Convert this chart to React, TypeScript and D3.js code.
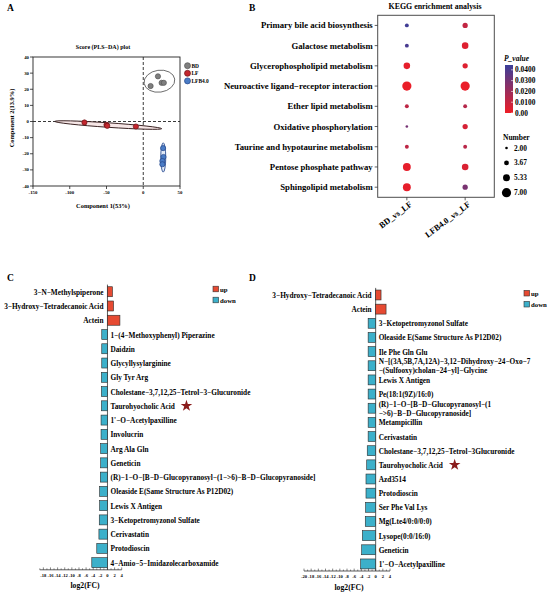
import React from "react";
import * as d3 from "d3";

const W = 550;
const H = 596;
const serif = '"Liberation Serif", "Times New Roman", serif';

// ---- A: PLS-DA score plot ----
const scoreGroups = ["BD", "LF", "LFB4.0"];
const scoreColors = ["#7f7f7f", "#c3272e", "#4a7cc6"];
const scoreStrokes = ["#555555", "#6d1418", "#24468a"];
const bdX = [10, 20, 25, 28];
const bdY = [22, 28, 24, 24];
const lfX = [-80, -50, -49, -10];
const lfY = [-0.6, -2.1, -2.7, -3.1];
const lfbX = [27, 27.5, 26, 26];
const lfbY = [-16.5, -22, -24.5, -26.5];
// confidence ellipses (centre, semi axes in data units, screen rotation)
const ellCx = [22, -47.6, 27.2];
const ellCy = [25, -2.2, -22.3];
const ellRx = [21, 72.8, 3.4];
const ellRy = [6.8, 1.4, 9.1];
const ellRot = [-8, 3.9, 0];
const ellStroke = ["#666666", "#2b1212", "#2c4f94"];
const ellFill = ["none", "#f6e6e6", "#e2eaf7"];
const scoreXTicks = [-150, -100, -50, 0, 50];
const scoreYTicks = [-40, -30, -20, -10, 0, 10, 20, 30, 40];

// ---- B: KEGG enrichment ----
const pathways = [
  "Primary bile acid biosynthesis",
  "Galactose metabolism",
  "Glycerophospholipid metabolism",
  "Neuroactive ligand\u2212receptor interaction",
  "Ether lipid metabolism",
  "Oxidative phosphorylation",
  "Taurine and hypotaurine metabolism",
  "Pentose phosphate pathway",
  "Sphingolipid metabolism",
];
const comparisons = ["BD_vs_LF", "LFB4.0_vs_LF"];
const bdCounts = [3, 3, 5, 7, 3, 2, 3, 6, 6];
const bdPvalues = [0.043, 0.041, 0.002, 0.001, 0.012, 0.03, 0.012, 0.002, 0.002];
const lfbCounts = [4, 5, 4, 7, 3, 4, 3, 5, 4];
const lfbPvalues = [0.011, 0.004, 0.004, 0.001, 0.014, 0.006, 0.013, 0.005, 0.029];
const pTicks = [0, 0.01, 0.02, 0.03, 0.04];
const pTickLabels = ["0.00", "0.0100", "0.0200", "0.0300", "0.0400"];
const numberTicks = [2, 3.67, 5.33, 7];
const numberLabels = ["2.00", "3.67", "5.33", "7.00"];

// ---- C: BD vs LF fold change ----
const cNames = [
  "3\u2212N\u2212Methylspiperone",
  "3\u2212Hydroxy\u2212Tetradecanoic Acid",
  "Actein",
  "1\u2212(4\u2212Methoxyphenyl) Piperazine",
  "Daidzin",
  "Glycyllysylarginine",
  "Gly Tyr Arg",
  "Cholestane\u22123,7,12,25\u2212Tetrol\u22123\u2212Glucuronide",
  "Taurohyocholic Acid",
  "1'\u2212O\u2212Acetylpaxilline",
  "Involucrin",
  "Arg Ala Gln",
  "Geneticin",
  "(R)\u22121\u2212O\u2212[B\u2212D\u2212Glucopyranosyl\u2212(1\u2212>6)\u2212B\u2212D\u2212Glucopyranoside]",
  "Oleaside E(Same Structure As P12D02)",
  "Lewis X Antigen",
  "3\u2212Ketopetromyzonol Sulfate",
  "Cerivastatin",
  "Protodioscin",
  "4\u2212Amio\u22125\u2212Imidazolecarboxamide",
];
const cValues = [1.4, 1.7, 3.5, -1.6, -1.6, -1.6, -1.7, -1.7, -1.7, -1.8, -1.8, -1.9, -1.9, -2.0, -2.2, -2.2, -2.3, -2.4, -3.0, -4.4];
const cTicks = [-18, -16, -14, -12, -10, -8, -6, -4, -2, 0, 2, 4];

// ---- D: LFB4.0 vs LF fold change ----
const dNames = [
  "3\u2212Hydroxy\u2212Tetradecanoic Acid",
  "Actein",
  "3\u2212Ketopetromyzonol Sulfate",
  "Oleaside E(Same Structure As P12D02)",
  "Ile Phe Gln Glu",
  "N\u2212[(3A,5B,7A,12A)\u22123,12\u2212Dihydroxy\u221224\u2212Oxo\u22127\n\u2212(Sulfooxy)cholan\u221224\u2212yl]\u2212Glycine",
  "Lewis X Antigen",
  "Pe(18:1(9Z)/16:0)",
  "(R)\u22121\u2212O\u2212[B\u2212D\u2212Glucopyranosyl\u2212(1\n\u2212>6)\u2212B\u2212D\u2212Glucopyranoside]",
  "Metampicillin",
  "Cerivastatin",
  "Cholestane\u22123,7,12,25\u2212Tetrol\u22123Glucuronide",
  "Taurohyocholic Acid",
  "Azd3514",
  "Protodioscin",
  "Ser Phe Val Lys",
  "Mg(Lte4/0:0/0:0)",
  "Lysope(0:0/16:0)",
  "Geneticin",
  "1'\u2212O\u2212Acetylpaxilline",
];
const dValues = [1.5, 2.9, -2.1, -2.1, -2.1, -2.1, -2.1, -2.1, -2.1, -2.1, -2.1, -2.35, -2.5, -2.7, -2.7, -2.8, -2.9, -3.7, -3.9, -4.2];
const dTicks = [-20, -18, -16, -14, -12, -10, -8, -6, -4, -2, 0, 2, 4];

const starred = "Taurohyocholic Acid";
const upColor = "#e64a32";
const downColor = "#3cb0ca";

function ScorePlot() {
  const x = d3.scaleLinear().domain([-150, 50]).range([33, 180]);
  const y = d3.scaleLinear().domain([-40, 40]).range([186, 57]);
  const groups = [
    { xs: bdX, ys: bdY },
    { xs: lfX, ys: lfY },
    { xs: lfbX, ys: lfbY },
  ];
  return (
    <g fontFamily={serif} fontWeight="bold">
      <text x={7} y={11} fontSize={9.5}>A</text>
      <text x={103} y={49} fontSize={6} textAnchor="middle">Score (PLS{"\u2212"}DA) plot</text>
      <rect x={33} y={57} width={147} height={129} fill="none" stroke="#222" strokeWidth={0.9} />
      <line x1={x(0)} x2={x(0)} y1={57} y2={186} stroke="#222" strokeDasharray="3,2" strokeWidth={0.9} />
      <line x1={33} x2={180} y1={y(0)} y2={y(0)} stroke="#222" strokeDasharray="3,2" strokeWidth={0.9} />
      {scoreXTicks.map((t) => (
        <g key={t}>
          <line x1={x(t)} x2={x(t)} y1={186} y2={189} stroke="#222" strokeWidth={0.8} />
          <text x={x(t)} y={193.5} fontSize={4.8} textAnchor="middle">{t}</text>
        </g>
      ))}
      {scoreYTicks.map((t) => (
        <g key={t}>
          <line x1={30} x2={33} y1={y(t)} y2={y(t)} stroke="#222" strokeWidth={0.8} />
          <text x={29} y={y(t)} fontSize={4.8} textAnchor="end" dominantBaseline="central">{t}</text>
        </g>
      ))}
      <text x={103} y={208} fontSize={6.4} textAnchor="middle">Component 1(53%)</text>
      <text transform={`translate(13.5,118) rotate(-90)`} fontSize={6.4} textAnchor="middle">Component 2(13.9%)</text>
      {ellCx.map((cx, i) => (
        <ellipse
          key={i}
          cx={x(cx)}
          cy={y(ellCy[i])}
          rx={x(cx + ellRx[i]) - x(cx)}
          ry={y(ellCy[i]) - y(ellCy[i] + ellRy[i])}
          transform={`rotate(${ellRot[i]} ${x(cx)} ${y(ellCy[i])})`}
          fill={ellFill[i]}
          stroke={ellStroke[i]}
          strokeWidth={0.9}
        />
      ))}
      {groups.map((g, gi) =>
        g.xs.map((v, i) => (
          <circle key={`${gi}-${i}`} cx={x(v)} cy={y(g.ys[i])} r={2.6} fill={scoreColors[gi]} stroke={scoreStrokes[gi]} strokeWidth={0.7} />
        ))
      )}
      {scoreGroups.map((name, i) => (
        <g key={name} transform={`translate(187.5,${65.7 + i * 7.6})`}>
          <circle r={3} fill={scoreColors[i]} stroke={scoreStrokes[i]} strokeWidth={0.7} />
          <text x={4} fontSize={5.4} dominantBaseline="central">{name}</text>
        </g>
      ))}
    </g>
  );
}

function KeggPlot() {
  const left = 377.7;
  const right = 494.3;
  const top = 15.3;
  const bottom = 197.3;
  const y = d3.scalePoint<string>().domain(pathways).range([top, bottom]).padding(0.5);
  const x = d3.scalePoint<string>().domain(comparisons).range([left, right]).padding(0.5);
  const r = d3.scaleLinear().domain([2, 7]).range([1.3, 4.6]);
  const color = d3.scaleLinear<string>().domain([0, 0.0445]).range(["#ee1d26", "#3a3e99"]).interpolate(d3.interpolateRgb);
  const pScale = d3.scaleLinear().domain([0, 0.0445]).range([113, 65]);
  const nScale = d3.scalePoint<string>().domain(numberLabels).range([148, 192.7]);
  const series = [
    { counts: bdCounts, pv: bdPvalues },
    { counts: lfbCounts, pv: lfbPvalues },
  ];
  return (
    <g fontFamily={serif} fontWeight="bold">
      <defs>
        <linearGradient id="pgrad" x1="0" x2="0" y1="0" y2="1">
          <stop offset="0%" stopColor={color(0.0445)} />
          <stop offset="100%" stopColor={color(0)} />
        </linearGradient>
      </defs>
      <text x={249} y={11} fontSize={9.5}>B</text>
      <text x={435} y={9} fontSize={7.9} textAnchor="middle">KEGG enrichment analysis</text>
      <rect x={left} y={top} width={right - left} height={bottom - top} fill="none" stroke="#4d4d4d" strokeWidth={1} />
      {pathways.map((p) => (
        <g key={p}>
          <line x1={left - 3} x2={left} y1={y(p)} y2={y(p)} stroke="#333" strokeWidth={0.8} />
          <text x={left - 5} y={y(p)} fontSize={8.7} textAnchor="end" dominantBaseline="central">{p}</text>
        </g>
      ))}
      {comparisons.map((c) => (
        <g key={c}>
          <line x1={x(c)} x2={x(c)} y1={bottom} y2={bottom + 3} stroke="#333" strokeWidth={0.8} />
          <text transform={`translate(${x(c)! + 2},${bottom + 3}) rotate(-37)`} fontSize={8.5} textAnchor="end" dominantBaseline="hanging">{c}</text>
        </g>
      ))}
      {series.map((s, si) =>
        pathways.map((p, i) => (
          <circle key={`${si}-${p}`} cx={x(comparisons[si])} cy={y(p)} r={r(s.counts[i])} fill={color(s.pv[i])} />
        ))
      )}
      <text x={504} y={61} fontSize={7.5} fontStyle="italic">P_value</text>
      <rect x={505} y={65} width={8} height={48} fill="url(#pgrad)" />
      {pTicks.map((t, i) => (
        <g key={t}>
          <line x1={511} x2={513} y1={pScale(t)} y2={pScale(t)} stroke="#fff" strokeWidth={0.6} />
          <text x={515} y={pScale(t)} fontSize={7.4} dominantBaseline="central">{pTickLabels[i]}</text>
        </g>
      ))}
      <text x={503} y={139.5} fontSize={7.5}>Number</text>
      {numberTicks.map((t, i) => (
        <g key={t}>
          <circle cx={506.5} cy={nScale(numberLabels[i])} r={r(t)} fill="#000" />
          <text x={514} y={nScale(numberLabels[i])} fontSize={7.4} dominantBaseline="central">{numberLabels[i]}</text>
        </g>
      ))}
    </g>
  );
}

type FCProps = {
  letter: string;
  letterX: number;
  names: string[];
  values: number[];
  ticks: number[];
  domain: [number, number];
  xRange: [number, number];
  yRange: [number, number];
  legendX: number;
  legendY: number;
  labelX: number;
  labelY: number;
  starOffset: number;
};

function FoldChangePanel(p: FCProps) {
  const x = d3.scaleLinear().domain(p.domain).range(p.xRange);
  const y = d3.scaleBand<string>().domain(p.names).range(p.yRange).paddingInner(0.3).paddingOuter(0.15);
  const x0 = x(0);
  const axisY = p.yRange[1];
  const minor = d3.range(p.domain[0], p.domain[1] + 1, 1);
  const star = d3.symbol().type(d3.symbolStar).size(42)();
  return (
    <g fontFamily={serif} fontWeight="bold">
      <text x={p.letterX} y={281} fontSize={9.5}>{p.letter}</text>
      {["up", "down"].map((k, i) => (
        <g key={k} transform={`translate(${p.legendX},${p.legendY + i * 11})`}>
          <rect x={0} y={-2.8} width={5.6} height={5.6} fill={i === 0 ? upColor : downColor} stroke="#333" strokeWidth={0.6} />
          <text x={7} y={0} fontSize={6.8} dominantBaseline="central">{k}</text>
        </g>
      ))}
      <line x1={x0} x2={x0} y1={p.yRange[0]} y2={axisY} stroke="#333" strokeWidth={0.8} />
      {p.names.map((n, i) => {
        const v = p.values[i];
        const yc = y(n)! + y.bandwidth() / 2;
        const lines = n.split("\n");
        const tx = v >= 0 ? x0 - 4 : x0 + 3;
        return (
          <g key={n}>
            <rect
              x={Math.min(x(v), x0)}
              y={y(n)}
              width={Math.abs(x(v) - x0)}
              height={y.bandwidth()}
              fill={v >= 0 ? upColor : downColor}
              stroke="#2a2a2a"
              strokeWidth={0.6}
            />
            <text x={tx} y={yc} fontSize={7.3} textAnchor={v >= 0 ? "end" : "start"} dominantBaseline="central">
              {lines.map((l, li) => (
                <tspan key={li} x={tx} y={yc + (li - (lines.length - 1) / 2) * 9.3}>{l}</tspan>
              ))}
            </text>
            {n === starred && <path d={star!} transform={`translate(${tx + p.starOffset},${yc})`} fill="#8a1c1c" />}
          </g>
        );
      })}
      <line x1={p.xRange[0]} x2={p.xRange[1]} y1={axisY} y2={axisY} stroke="#333" strokeWidth={0.8} />
      {minor.map((t) => (
        <line key={t} x1={x(t)} x2={x(t)} y1={axisY} y2={axisY - (t % 2 === 0 ? 2.4 : 1.4)} stroke="#333" strokeWidth={0.6} />
      ))}
      {p.ticks.map((t) => (
        <text key={t} x={x(t)} y={axisY + 5.5} fontSize={4.6} textAnchor="middle" dominantBaseline="central">{t}</text>
      ))}
      <text x={p.labelX} y={p.labelY} fontSize={7.7} textAnchor="middle">log2(FC)</text>
    </g>
  );
}

export default function App() {
  return (
    <svg width={W} height={H} style={{ position: "absolute", left: 0, top: 0, background: "#fff" }}>
      <ScorePlot />
      <KeggPlot />
      <FoldChangePanel
        letter="C"
        letterX={7}
        names={cNames}
        values={cValues}
        ticks={cTicks}
        domain={[-19, 4]}
        xRange={[39.8, 121.7]}
        yRange={[284.6, 569.8]}
        legendX={213}
        legendY={289}
        labelX={85}
        labelY={588}
        starOffset={76}
      />
      <FoldChangePanel
        letter="D"
        letterX={249}
        names={dNames}
        values={dValues}
        ticks={dTicks}
        domain={[-20, 4]}
        xRange={[304, 390]}
        yRange={[287.9, 571]}
        legendX={524}
        legendY={293.2}
        labelX={349}
        labelY={590}
        starOffset={76}
      />
    </svg>
  );
}
